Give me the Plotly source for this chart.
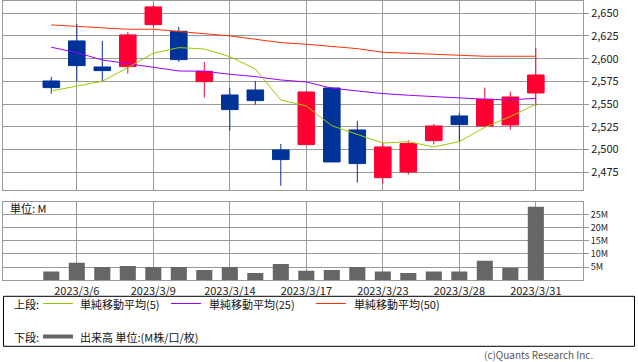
import plotly.graph_objects as go

# ---- data ----
dates = ["2023/3/3", "2023/3/6", "2023/3/7", "2023/3/8", "2023/3/9", "2023/3/10",
         "2023/3/13", "2023/3/14", "2023/3/15", "2023/3/16", "2023/3/17", "2023/3/20",
         "2023/3/22", "2023/3/23", "2023/3/24", "2023/3/27", "2023/3/28", "2023/3/29",
         "2023/3/30", "2023/3/31"]
open_ = [2575.5, 2619.6, 2590.9, 2591.3, 2637.5, 2630.2, 2574.8, 2560.1, 2565.6, 2499.6,
         2505.5, 2567.8, 2521.6, 2469.1, 2475.4, 2509.9, 2537.0, 2526.0, 2527.1, 2562.3]
high = [2579.9, 2638.3, 2619.6, 2629.5, 2659.2, 2635.0, 2596.4, 2567.8, 2575.5, 2506.2,
        2563.8, 2568.5, 2531.5, 2507.7, 2510.2, 2528.2, 2539.9, 2568.2, 2563.8, 2612.2]
low = [2561.6, 2575.2, 2575.2, 2583.6, 2635.3, 2596.4, 2557.2, 2520.9, 2549.5, 2460.3,
       2505.5, 2486.4, 2463.6, 2462.5, 2472.4, 2505.5, 2508.8, 2526.0, 2522.0, 2548.0]
close = [2568.2, 2592.4, 2586.9, 2626.2, 2657.0, 2599.0, 2586.2, 2544.0, 2553.9, 2489.0,
         2563.4, 2486.4, 2484.6, 2502.9, 2506.6, 2526.0, 2527.5, 2555.4, 2557.9, 2582.1]
ma5 = [2564.5, 2569.7, 2575.2, 2590.2, 2606.0, 2612.2, 2610.7, 2602.3, 2588.7, 2554.6,
       2548.0, 2526.3, 2517.1, 2507.2, 2508.7, 2502.9, 2508.8, 2524.5, 2536.3, 2549.9]
ma25 = [2612.6, 2606.7, 2598.6, 2594.2, 2590.6, 2586.5, 2586.2, 2582.9, 2580.3, 2576.6,
        2574.4, 2567.5, 2564.5, 2561.6, 2559.8, 2558.3, 2556.5, 2555.4, 2554.6, 2556.5]
ma50 = [2637.2, 2635.7, 2633.5, 2632.4, 2632.4, 2629.8, 2627.6, 2625.1, 2621.4, 2617.7,
        2615.9, 2613.7, 2611.1, 2607.1, 2605.6, 2604.9, 2603.8, 2602.7, 2602.7, 2602.7]
volume_m = [3.3, 6.7, 5.0, 5.4, 5.0, 5.0, 3.9, 5.0, 2.8, 6.2,
            3.6, 3.9, 5.0, 3.3, 2.8, 3.3, 3.3, 7.4, 4.8, 27.9]
price_ticks = [2475, 2500, 2525, 2550, 2575, 2600, 2625, 2650]
vol_ticks = [5, 10, 15, 20, 25]
date_tick_idx = [1, 4, 7, 10, 13, 16, 19]

idx = list(range(len(dates)))

W, H = 638, 362
def px(x):
    return x / W
def py(y):
    return 1 - y / H

FONT = "Noto Sans CJK JP, Noto Sans, sans-serif"
GRID = "#999999"
RED = "#FF0033"
BLUE = "#003399"

fig = go.Figure()
fig.add_trace(go.Candlestick(
    x=idx, open=open_, high=high, low=low, close=close,
    increasing=dict(line=dict(color=RED, width=1), fillcolor=RED),
    decreasing=dict(line=dict(color=BLUE, width=1), fillcolor=BLUE),
    whiskerwidth=0, xaxis="x", yaxis="y", showlegend=False, hoverinfo="skip"))
fig.add_trace(go.Scatter(x=idx, y=ma50, mode="lines", line=dict(color="#FF3300", width=1),
                         xaxis="x", yaxis="y", showlegend=False, hoverinfo="skip"))
fig.add_trace(go.Scatter(x=idx, y=ma25, mode="lines", line=dict(color="#9900FF", width=1),
                         xaxis="x", yaxis="y", showlegend=False, hoverinfo="skip"))
fig.add_trace(go.Scatter(x=idx, y=ma5, mode="lines", line=dict(color="#99CC00", width=1),
                         xaxis="x", yaxis="y", showlegend=False, hoverinfo="skip"))
fig.add_trace(go.Bar(x=idx, y=volume_m, width=0.63, marker=dict(color="#666666", line=dict(width=0)),
                     xaxis="x2", yaxis="y2", showlegend=False, hoverinfo="skip"))

xr = [-1.894, 20.85]
xcommon = dict(range=xr, tickmode="array", tickvals=date_tick_idx,
               showgrid=True, gridcolor=GRID, gridwidth=1, zeroline=False,
               showline=True, linecolor=GRID, linewidth=1, mirror=True,
               domain=[px(3), px(583)], fixedrange=True)

fig.update_layout(
    width=W, height=H, margin=dict(l=0, r=0, t=0, b=0),
    paper_bgcolor="white", plot_bgcolor="white",
    font=dict(family=FONT, size=11, color="#222222"),
    boxgap=0.35, boxgroupgap=0,
    xaxis=dict(**xcommon, anchor="y", showticklabels=False, ticks="",
               rangeslider=dict(visible=False)),
    xaxis2=dict(**xcommon, anchor="y2", showticklabels=True,
                ticktext=[dates[i] for i in date_tick_idx], ticks="",
                tickfont=dict(size=11, color="#222222")),
    yaxis=dict(domain=[py(190.3), py(1)], range=[2455.2, 2663.5], side="right",
               tickmode="array", tickvals=price_ticks,
               ticktext=[f"{v:,}" for v in price_ticks],
               ticks="outside", ticklen=5, tickcolor=GRID,
               showgrid=True, gridcolor=GRID, zeroline=False,
               showline=True, linecolor=GRID, mirror=True, fixedrange=True),
    yaxis2=dict(domain=[py(280.3), py(201.7)], range=[0, 29.8], side="right",
                tickmode="array", tickvals=vol_ticks,
                ticktext=[f"{v}M" for v in vol_ticks],
                tickfont=dict(size=9, color="#222222"),
                ticks="outside", ticklen=5, tickcolor=GRID,
                showgrid=True, gridcolor=GRID, zeroline=False,
                showline=True, linecolor=GRID, mirror=True, fixedrange=True),
)

anns = []
def text(x, y, s, anchor="left", size=11, color="#111111"):
    anns.append(dict(x=px(x), y=py(y), xref="paper", yref="paper", text=s,
                     showarrow=False, xanchor=anchor, yanchor="middle",
                     font=dict(size=size, color=color, family=FONT)))

text(8, 208, "単位: M")
text(12, 303.5, "上段:")
text(78, 303.5, "単純移動平均(5)")
text(207, 303.5, "単純移動平均(25)")
text(352, 303.5, "単純移動平均(50)")
text(12, 336.5, "下段:")
text(78, 336.5, "出来高 単位:(M株/口/枚)")
text(595, 354.5, "(c)Quants Research Inc.", anchor="right", size=10, color="#555555")
fig.update_layout(annotations=anns)

shapes = [
    dict(type="rect", xref="paper", yref="paper", x0=px(3.5), x1=px(634.5),
         y0=py(346.3), y1=py(296.3), line=dict(color="black", width=1)),
]
for (x0, x1, c, w, y) in [(43, 73, "#99CC00", 1, 303.5), (171, 201, "#9900FF", 1, 303.5),
                          (316, 346, "#FF3300", 1, 303.5), (43, 73, "#666666", 4, 336.5)]:
    shapes.append(dict(type="line", xref="paper", yref="paper", x0=px(x0), x1=px(x1),
                       y0=py(y), y1=py(y), line=dict(color=c, width=w)))
fig.update_layout(shapes=shapes)

fig.write_html("out.html", config={"displayModeBar": False},
               post_script="document.body.style.margin='0';document.body.style.padding='0';")
